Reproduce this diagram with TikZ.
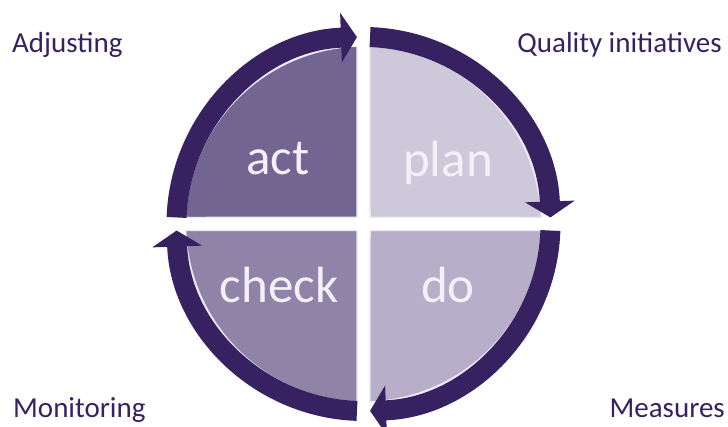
\documentclass[tikz,border=0pt]{standalone}
\usepackage{fontspec}
\setmainfont{Carlito}
\usetikzlibrary{arrows.meta}
\definecolor{ringpurple}{RGB}{55,33,97}
\definecolor{actfill}{RGB}{115,101,146}
\definecolor{planfill}{RGB}{206,200,219}
\definecolor{checkfill}{RGB}{143,131,167}
\definecolor{dofill}{RGB}{183,174,201}
\definecolor{quadtext}{RGB}{243,240,248}
\definecolor{quadedge}{RGB}{238,235,246}
\begin{document}
\begin{tikzpicture}[x=1pt,y=1pt,
  quad/.style={draw=quadedge,line width=1.5pt},
  ring/.style={draw=ringpurple,line width=20pt,
    -{Triangle[width=49pt,length=16pt]}},
  phase/.style={text=quadtext,font=\fontsize{51}{60}\selectfont,anchor=base},
  lbl/.style={text=ringpurple,font=\fontsize{29}{34}\selectfont,inner sep=0pt}]
\useasboundingbox (-363.5,-203) rectangle (364.5,224);
\pgfmathsetmacro{\g}{6.5}
\pgfmathsetmacro{\r}{178}
\pgfmathsetmacro{\a}{asin(\g/\r)}
% quadrants
\filldraw [quad,fill=actfill] (-\g,\g) -- (180-\a:\r) arc [start angle=180-\a, end angle=90+\a, radius=\r] -- cycle;
\filldraw [quad,fill=planfill] (\g,\g) -- (90-\a:\r) arc [start angle=90-\a, end angle=\a, radius=\r] -- cycle;
\filldraw [quad,fill=dofill] (\g,-\g) -- (-\a:\r) arc [start angle=-\a, end angle=-90+\a, radius=\r] -- cycle;
\filldraw [quad,fill=checkfill] (-\g,-\g) -- (-90-\a:\r) arc [start angle=-90-\a, end angle=-180+\a, radius=\r] -- cycle;
% cycle arrows
\foreach \s/\e in {178/92, 88/2, -2/-88, -92/-178}
  \draw [ring] (\s:187) arc [start angle=\s, end angle=\e, radius=187];
\node [phase] (act) at (-85.5,49) {act};
\node [phase] (plan) at (84.5,47) {plan};
\node [phase] (check) at (-84.5,-79) {check};
\node [phase] (do) at (84.5,-79) {do};
\node [lbl,anchor=base west] (adjust) at (-351.5,171) {Adjusting};
\node [lbl,anchor=base east] (quality) at (358.5,171) {Quality initiatives};
\node [lbl,anchor=base west] (monitor) at (-350.5,-194) {Monitoring};
\node [lbl,anchor=base east] (measure) at (361.5,-194) {Measures};
\end{tikzpicture}
\end{document}
